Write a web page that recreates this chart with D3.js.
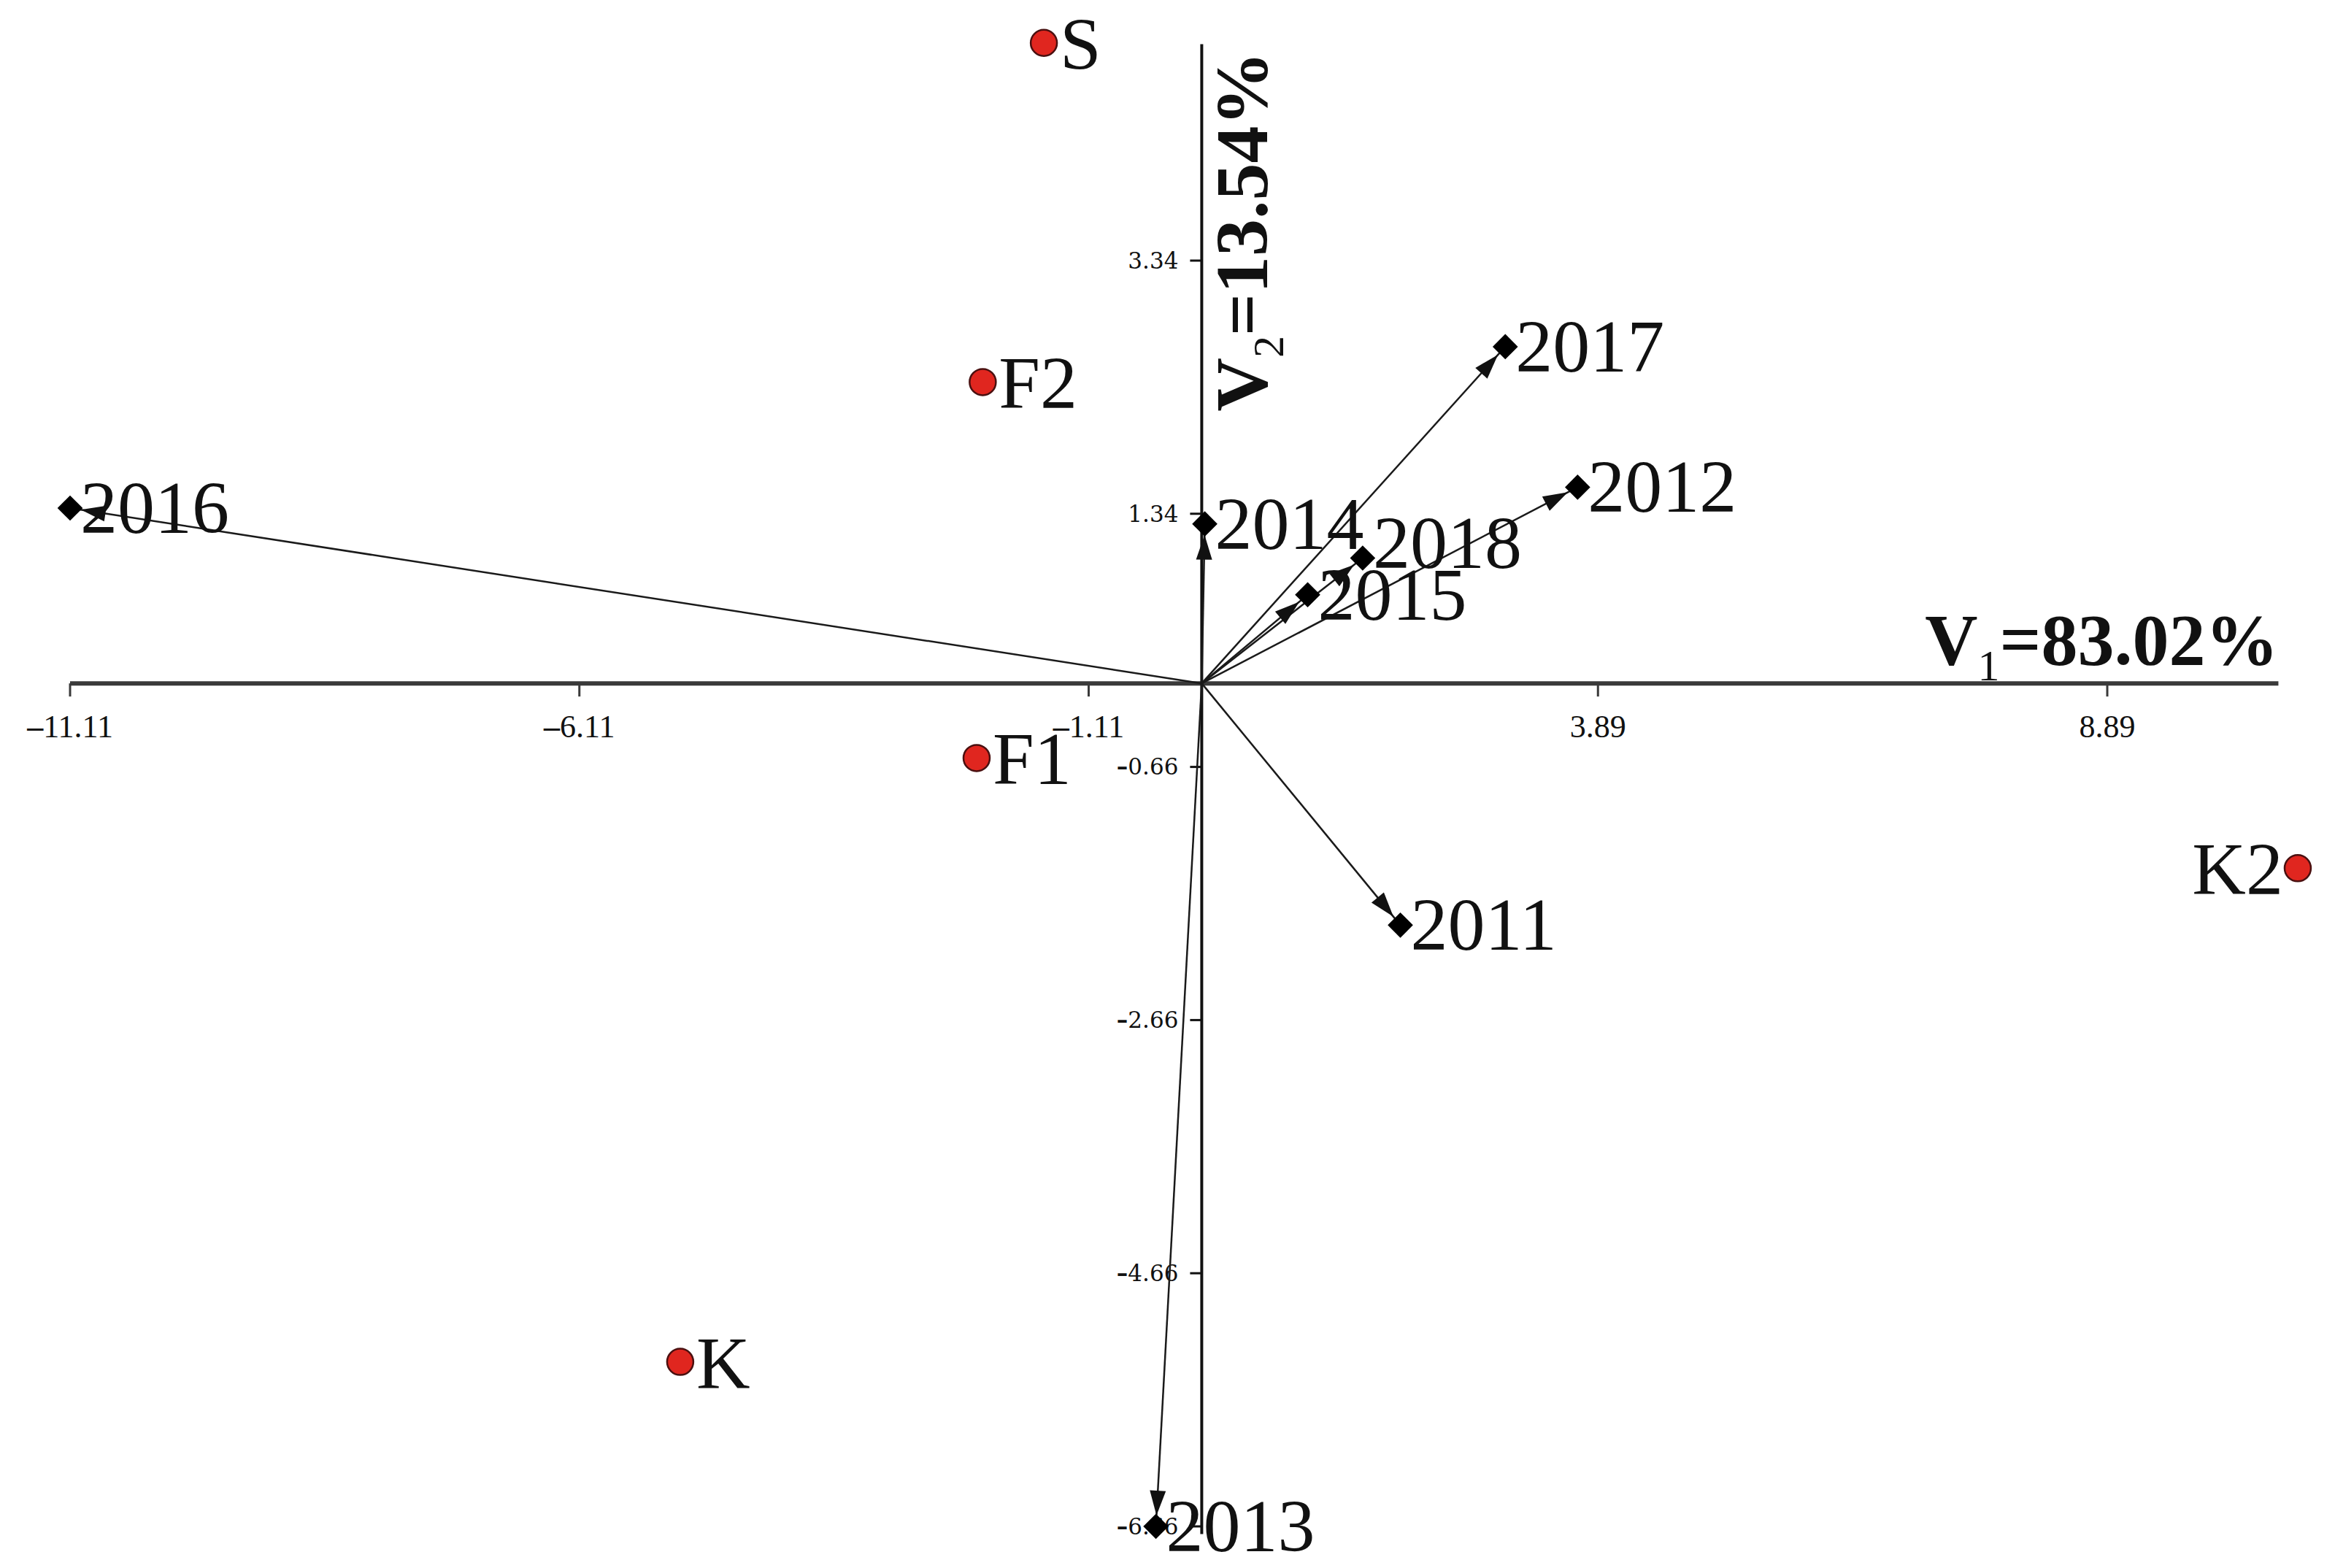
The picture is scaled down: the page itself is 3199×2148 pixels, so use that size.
<!DOCTYPE html>
<html>
<head>
<meta charset="utf-8">
<script src="https://cdn.jsdelivr.net/npm/d3@7"></script>
<style>
  body { margin: 0; background: #fff; }
  text { font-family: "Liberation Serif", "Times New Roman", serif; fill: #111; }
</style>
</head>
<body>
<div id="chart"></div>
<script>
(function() {
	var width = 3199,
		height = 2148;

	// sites (red circles)
	var siteNames = ["S", "F2", "F1", "K", "K2"];
	var siteX = [-1.55, -2.15, -2.21, -5.12, 10.76];
	var siteY = [5.06, 2.38, -0.59, -5.36, -1.46];

	// years (vectors)
	var yearNames = ["2016", "2017", "2012", "2014", "2018", "2015", "2011", "2013"];
	var yearX = [-11.11, 2.98, 3.69, 0.03, 1.58, 1.04, 1.95, -0.45];
	var yearY = [1.385, 2.66, 1.55, 1.26, 0.99, 0.70, -1.91, -6.66];

	// axes
	var xTicks = [-11.11, -6.11, -1.11, 3.89, 8.89];
	var yTicks = [3.34, 1.34, -0.66, -2.66, -4.66, -6.66];
	var xExtent = [-11.11, 10.57];
	var yExtent = [-6.72, 5.05];
	var xTitle = ["V", "1", "=83.02%"];
	var yTitle = ["V", "2", "=13.54%"];

	var svg = d3.select("#chart")
		.append("svg")
		.attr("width", width)
		.attr("height", height);

	svg.append("rect").attr("width", width).attr("height", height).attr("fill", "#fff");

	var x = d3.scaleLinear().domain([-11.11, 8.89]).range([96, 2887]);
	var y = d3.scaleLinear().domain([-6.66, 3.34]).range([2091, 357]);

	var fmt = function(v) {
		return v.toFixed(2).replace("-", "");
	};

	// x axis
	svg.append("line")
		.attr("x1", x(xExtent[0])).attr("x2", x(xExtent[1]))
		.attr("y1", y(0)).attr("y2", y(0))
		.attr("stroke", "#3a3a3a").attr("stroke-width", 6);

	var xt = svg.selectAll(".xtick")
		.data(xTicks)
		.enter().append("g")
		.attr("class", "xtick")
		.attr("transform", function(d) { return "translate(" + x(d) + "," + y(0) + ")"; });
	xt.append("line").attr("y1", 0).attr("y2", 18).attr("stroke", "#3a3a3a").attr("stroke-width", 3);
	var xl = xt.append("text")
		.attr("y", 74)
		.attr("text-anchor", "middle")
		.style("font-size", "44px");
	xl.filter(function(d) { return d < 0; })
		.append("tspan").style("font-weight", "bold").text("\u2013");
	xl.append("tspan").text(fmt);

	// y axis
	svg.append("line")
		.attr("x1", x(0)).attr("x2", x(0))
		.attr("y1", y(yExtent[0])).attr("y2", y(yExtent[1]))
		.attr("stroke", "#111").attr("stroke-width", 4);

	var yt = svg.selectAll(".ytick")
		.data(yTicks)
		.enter().append("g")
		.attr("class", "ytick")
		.attr("transform", function(d) { return "translate(" + x(0) + "," + y(d) + ")"; });
	yt.append("line").attr("x1", 0).attr("x2", -16).attr("stroke", "#111").attr("stroke-width", 3);
	var yl = yt.append("text")
		.attr("x", -32)
		.attr("dy", "0.35em")
		.attr("text-anchor", "end")
		.style("font-family", "'DejaVu Serif', serif")
		.style("font-size", "31px");
	yl.filter(function(d) { return d < 0; })
		.append("tspan").style("font-weight", "bold").text("\u2013");
	yl.append("tspan").text(fmt);

	// axis titles
	var t1 = svg.append("text")
		.attr("x", x(xExtent[1]))
		.attr("y", y(0) - 26)
		.attr("text-anchor", "end")
		.style("font-size", "100px")
		.style("font-weight", "bold");
	t1.append("tspan").text(xTitle[0]);
	t1.append("tspan").attr("dy", 22).style("font-size", "60px").style("font-weight", "normal").text(xTitle[1]);
	t1.append("tspan").attr("dy", -22).text(xTitle[2]);

	var t2 = svg.append("text")
		.attr("transform", "translate(" + (x(0) + 90) + "," + (y(yExtent[1]) + 10) + ") rotate(-90)")
		.attr("text-anchor", "end")
		.style("font-size", "102px")
		.style("font-weight", "bold");
	t2.append("tspan").text(yTitle[0]);
	t2.append("tspan").attr("dy", 22).style("font-size", "60px").style("font-weight", "normal").text(yTitle[1]);
	t2.append("tspan").attr("dy", -22).text(yTitle[2]);

	// year vectors
	var years = yearNames.map(function(n, i) {
		return { name: n, x: yearX[i], y: yearY[i] };
	});

	var ox = x(0), oy = y(0);
	var tipGap = 15, headLen = 34, headHalf = 11;

	var vec = svg.selectAll(".vec")
		.data(years)
		.enter().append("g")
		.attr("class", "vec");

	vec.append("line")
		.attr("x1", ox).attr("y1", oy)
		.attr("x2", function(d) { return x(d.x); })
		.attr("y2", function(d) { return y(d.y); })
		.attr("stroke", "#1a1a1a")
		.attr("stroke-width", 2.5);

	vec.append("path")
		.attr("fill", "#111")
		.attr("d", function(d) {
			var ex = x(d.x), ey = y(d.y);
			var dx = ex - ox, dy = ey - oy;
			var len = Math.sqrt(dx * dx + dy * dy);
			var ux = dx / len, uy = dy / len;
			var tx = ex - ux * tipGap, ty = ey - uy * tipGap;
			var bx = tx - ux * headLen, by = ty - uy * headLen;
			return "M" + tx + "," + ty +
				"L" + (bx - uy * headHalf) + "," + (by + ux * headHalf) +
				"L" + (bx + uy * headHalf) + "," + (by - ux * headHalf) + "Z";
		});

	vec.append("path")
		.attr("d", d3.symbol(d3.symbolSquare, 600))
		.attr("fill", "#000")
		.attr("transform", function(d) {
			return "translate(" + x(d.x) + "," + y(d.y) + ") rotate(45)";
		});

	vec.append("text")
		.attr("x", function(d) { return x(d.x) + 14; })
		.attr("y", function(d) { return y(d.y) + (d.name === "2018" ? 14 : 34); })
		.style("font-size", "102px")
		.text(function(d) { return d.name; });

	// sites
	var sites = siteNames.map(function(n, i) {
		return { name: n, x: siteX[i], y: siteY[i] };
	});

	var st = svg.selectAll(".site")
		.data(sites)
		.enter().append("g")
		.attr("class", "site");

	st.append("circle")
		.attr("cx", function(d) { return x(d.x); })
		.attr("cy", function(d) { return y(d.y); })
		.attr("r", 18)
		.attr("fill", "#e0261f")
		.attr("stroke", "#4a1010")
		.attr("stroke-width", 2.5);

	st.append("text")
		.attr("x", function(d) { return d.name === "K2" ? x(d.x) - 20 : x(d.x) + 22; })
		.attr("y", function(d) { return y(d.y) + 36; })
		.attr("text-anchor", function(d) { return d.name === "K2" ? "end" : "start"; })
		.style("font-size", "102px")
		.text(function(d) { return d.name; });
})();
</script>
</body>
</html>
